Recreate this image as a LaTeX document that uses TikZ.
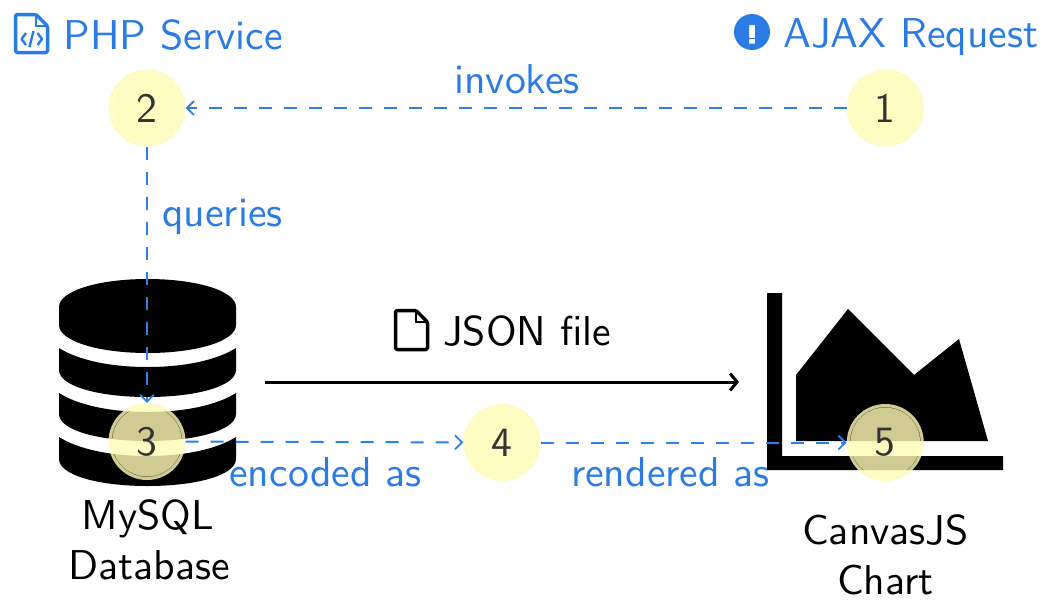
\documentclass[tikz,border=0pt]{standalone}
\usepackage{fontspec}
\setsansfont{lmsans10-regular.otf}
\usetikzlibrary{arrows.meta}
\definecolor{lnblue}{HTML}{2F7FE8}
\definecolor{txtblue}{HTML}{2B7BE4}
\definecolor{badgeyellow}{HTML}{FFFBB4}
\definecolor{numgray}{HTML}{333333}
\newcommand{\lbl}{\fontsize{41.7}{50}\selectfont\sffamily}
\newcommand{\badge}[4]{%
  \path[fill=badgeyellow,fill opacity=.81,even odd rule]
    (#2,#3) circle[radius=38.5] (#2,#3) circle[radius=35.4] (#2,#3) circle[radius=34.9];
  \node[badgenode] (#1) at (#2,#3) {#4};}
\tikzset{
  x=1pt,y=-1pt,
  badgenode/.style={circle,minimum size=77pt,inner sep=0,text=numgray,font=\lbl},
  txt/.style={inner sep=0,font=\lbl,anchor=base},
  bluetxt/.style={txt,text=txtblue},
  blacktxt/.style={txt,text=black},
  flow/.style={draw=lnblue,line width=2pt,dash pattern=on 13pt off 12pt,-{Straight Barb[length=7pt,width=14pt,line width=1.8pt]}},
  solidflow/.style={draw=black,line width=3pt,-{Straight Barb[length=7pt,width=17pt,line width=3pt]}},
  icon/.style={line width=3.5pt,line join=round,rounded corners=1.5pt},
}
\begin{document}
\begin{tikzpicture}
\useasboundingbox (0,0) rectangle (1051,608);
% database icon
\fill[black] (59,307) .. controls (59,291) and (98,279) .. (147.5,279) .. controls (197,279) and (236,291) .. (236,307)
  -- (236,325) .. controls (236,341) and (197,353) .. (147.5,353) .. controls (98,353) and (59,341) .. (59,325) -- cycle;
\fill[black] (59,348) .. controls (78,360) and (110,367) .. (147.5,367) .. controls (185,367) and (217,360) .. (236,348)
  -- (236,370) .. controls (236,386) and (197,397) .. (147.5,397) .. controls (98,397) and (59,386) .. (59,370) -- cycle;
\fill[black] (59,393) .. controls (78,405) and (110,412) .. (147.5,412) .. controls (185,412) and (217,405) .. (236,393)
  -- (236,414) .. controls (236,430) and (197,441) .. (147.5,441) .. controls (98,441) and (59,430) .. (59,414) -- cycle;
\fill[black] (59,437) .. controls (78,449) and (110,456) .. (147.5,456) .. controls (185,456) and (217,449) .. (236,437)
  -- (236,459) .. controls (236,475) and (197,486) .. (147.5,486) .. controls (98,486) and (59,475) .. (59,459) -- cycle;
% chart icon
\fill[black] (767,293) -- (782,293) -- (782,456) -- (1003,456) -- (1003,470) -- (767,470) -- cycle;
\fill[black] (796,375) -- (848,309) -- (914,375) -- (959,339) -- (988,441) -- (796,441) -- cycle;
% badges
\badge{n1}{885.3}{108}{1}
\badge{n2}{147}{108}{2}
\badge{n3}{147}{441.5}{3}
\badge{n4}{502}{442.5}{4}
\badge{n5}{885.3}{442.5}{5}
% connectors
\draw[flow] (n1) -- (n2);
\draw[flow] (n2) -- (n3);
\draw[flow] (n3) -- (n4);
\draw[flow] (n4) -- (n5);
\coordinate (jsonstart) at (265,382);
\coordinate (jsonend) at (739,382);
\draw[solidflow] (jsonstart) -- (jsonend);
% titles
\node[bluetxt,anchor=base west] (php) at (63.5,49) {PHP Service};
\node[bluetxt,anchor=base west] (ajax) at (783,47) {AJAX Request};
\node[bluetxt] (invokes) at (517,93) {invokes};
\node[bluetxt,anchor=base west] (queries) at (162,226) {queries};
\node[bluetxt] (encoded) at (325.5,486) {encoded as};
\node[bluetxt] (rendered) at (670.5,486) {rendered as};
\node[blacktxt,anchor=base west] (json) at (443,345) {JSON file};
\node[blacktxt] (mysql) at (148,529) {MySQL};
\node[blacktxt] (dbase) at (149,579) {Database};
\node[blacktxt] (canvas) at (885.5,544) {CanvasJS};
\node[blacktxt] (chart) at (885.5,594) {Chart};
% php file icon
\draw[icon,draw=txtblue] (15.5,14.5) -- (36,14.5) -- (47.5,26) -- (47.5,52.5) -- (15.5,52.5) -- cycle;
\draw[draw=txtblue,line width=2.8pt] (36,14.5) -- (36,26) -- (47.5,26);
\draw[draw=txtblue,line width=2.4pt,line join=round] (26,33) -- (21.5,39) -- (26,45);
\draw[draw=txtblue,line width=2.4pt,line join=round] (37.5,33) -- (42,39) -- (37.5,45);
\draw[draw=txtblue,line width=2.4pt] (33.5,31) -- (29.5,47);
% ajax icon
\fill[txtblue,even odd rule] (752,32) circle[radius=18]
  (749,25) rectangle (755,38) (749,39) rectangle (755,43.5);
% json file icon
\draw[icon,draw=black] (395.5,310.5) -- (416,310.5) -- (427.5,322) -- (427.5,349.5) -- (395.5,349.5) -- cycle;
\draw[black,line width=2.8pt] (416,310.5) -- (416,322) -- (427.5,322);
\end{tikzpicture}
\end{document}
